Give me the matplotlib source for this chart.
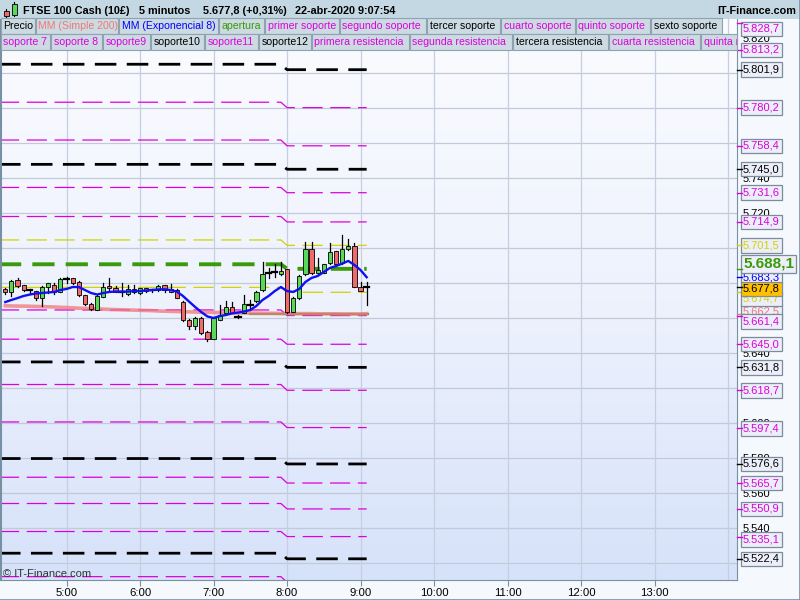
import numpy as np
import matplotlib
matplotlib.use("Agg")
import matplotlib.pyplot as plt
from matplotlib.patches import Rectangle
from matplotlib.colors import LinearSegmentedColormap
import matplotlib.transforms as mtransforms

plt.rcParams['font.family'] = ['Liberation Sans', 'DejaVu Sans']
plt.rcParams['lines.scale_dashes'] = False

# ---------------- data ----------------
first_bar = "04:10"
bar_minutes = 5
opens = [5676.4, 5674.7, 5681.7, 5678.7, 5676.2, 5675.2, 5671.2, 5677.6, 5678.9, 5675.0,
         5682.1, 5682.7, 5680.4, 5673.0, 5668.0, 5664.6, 5672.2, 5678.3, 5677.0, 5675.0,
         5673.5, 5676.4, 5674.1, 5676.9, 5676.0, 5676.0, 5678.7, 5676.4, 5676.0, 5669.4,
         5658.9, 5655.4, 5659.8, 5652.0, 5648.2, 5659.1, 5663.0, 5666.1, 5660.7, 5663.0,
         5667.4, 5669.7, 5676.0, 5685.5, 5686.5, 5685.0, 5687.8, 5663.6, 5671.2, 5685.0,
         5699.4, 5685.5, 5685.9, 5691.2, 5698.1, 5691.2, 5699.4, 5701.3, 5677.9, 5677.8]
highs = [5677.1, 5681.7, 5683.0, 5678.9, 5676.7, 5675.6, 5678.5, 5680.2, 5679.9, 5682.8,
         5683.6, 5683.0, 5681.1, 5673.3, 5668.3, 5672.9, 5679.9, 5682.7, 5678.2, 5679.9,
         5678.9, 5678.9, 5677.2, 5677.2, 5676.6, 5678.8, 5679.0, 5679.4, 5676.3, 5669.7,
         5659.2, 5660.5, 5660.3, 5652.3, 5660.1, 5667.4, 5669.7, 5669.3, 5662.0, 5673.1,
         5670.3, 5675.3, 5692.2, 5688.7, 5690.7, 5692.2, 5688.1, 5671.9, 5684.5, 5703.3,
         5703.3, 5694.3, 5691.0, 5703.1, 5698.4, 5707.4, 5705.2, 5702.9, 5680.7, 5680.4]
lows = [5673.7, 5672.7, 5677.9, 5675.4, 5674.1, 5670.3, 5667.0, 5674.1, 5673.5, 5674.6,
        5680.2, 5679.4, 5672.8, 5667.7, 5664.7, 5664.3, 5671.9, 5676.0, 5674.7, 5672.7,
        5673.2, 5674.1, 5673.8, 5675.1, 5675.1, 5675.7, 5675.1, 5674.7, 5671.3, 5658.5,
        5653.8, 5653.7, 5650.7, 5646.9, 5647.9, 5658.8, 5662.7, 5662.7, 5659.8, 5662.7,
        5664.6, 5669.4, 5675.7, 5683.0, 5683.6, 5684.7, 5662.7, 5663.3, 5670.9, 5684.7,
        5685.2, 5685.2, 5685.6, 5690.9, 5690.4, 5690.9, 5699.1, 5677.6, 5675.3, 5667.4]
closes = [5674.7, 5681.1, 5678.5, 5676.0, 5676.2, 5671.2, 5677.9, 5679.9, 5674.9, 5682.5,
          5682.1, 5680.2, 5673.1, 5668.0, 5665.0, 5672.6, 5677.9, 5677.0, 5675.0, 5675.0,
          5676.4, 5675.0, 5676.9, 5675.4, 5676.0, 5678.5, 5676.0, 5675.0, 5671.6, 5658.9,
          5655.6, 5660.2, 5651.3, 5648.2, 5659.8, 5661.5, 5666.1, 5663.0, 5660.7, 5668.0,
          5667.4, 5675.0, 5685.0, 5685.5, 5686.5, 5686.7, 5663.3, 5671.6, 5684.2, 5699.4,
          5685.5, 5687.4, 5690.7, 5697.5, 5690.7, 5699.4, 5701.3, 5677.9, 5675.6, 5677.8]
ema8 = [5669.1, 5670.3, 5671.4, 5672.6, 5673.4, 5674.0, 5674.3, 5674.6, 5674.9, 5676.0,
        5676.6, 5677.7, 5677.7, 5676.0, 5674.3, 5673.4, 5674.3, 5674.9, 5675.1, 5675.1,
        5675.1, 5675.4, 5675.4, 5675.7, 5676.0, 5676.3, 5676.4, 5676.0, 5675.1, 5672.6,
        5669.4, 5666.3, 5663.4, 5660.9, 5660.0, 5661.1, 5661.7, 5662.6, 5663.1, 5663.7,
        5664.6, 5666.9, 5670.3, 5672.6, 5675.4, 5677.7, 5675.4, 5674.9, 5676.6, 5680.6,
        5682.9, 5684.0, 5686.3, 5688.6, 5689.7, 5691.1, 5692.6, 5690.3, 5687.4, 5683.3]
sma200 = [5667.0, 5666.9, 5666.8, 5666.8, 5666.7, 5666.6, 5666.5, 5666.4, 5666.3, 5666.1,
          5666.0, 5665.8, 5665.6, 5665.5, 5665.3, 5665.2, 5665.1, 5664.9, 5664.8, 5664.7,
          5664.6, 5664.5, 5664.4, 5664.3, 5664.2, 5664.0, 5663.9, 5663.8, 5663.7, 5663.6,
          5663.5, 5663.4, 5663.3, 5663.3, 5663.2, 5663.1, 5663.0, 5663.0, 5662.9, 5662.9,
          5662.8, 5662.8, 5662.7, 5662.7, 5662.7, 5662.6, 5662.6, 5662.5, 5662.5, 5662.5,
          5662.5, 5662.4, 5662.4, 5662.4, 5662.4, 5662.3, 5662.3, 5662.3, 5662.3, 5662.5]

level_names = ["resistencia 8", "resistencia 7", "sexta resistencia", "quinta resistencia",
               "cuarta resistencia", "tercera resistencia", "segunda resistencia",
               "primera resistencia", "nivel superior", "apertura", "nivel inferior",
               "primer soporte", "segundo soporte", "tercer soporte", "cuarto soporte",
               "quinto soporte", "sexto soporte", "soporte 7", "soporte 8", "soporte9",
               "soporte10", "soporte11", "soporte12"]
prev_levels = [5831.8, 5816.3, 5805.0, 5783.3, 5761.7, 5747.8, 5734.6, 5718.0, 5704.6, 5690.7,
               5677.5, 5664.6, 5647.9, 5634.9, 5622.0, 5600.6, 5579.7, 5569.0, 5554.0, 5538.0,
               5525.6, 5512.2, 5498.0]
curr_levels = [5828.7, 5813.2, 5801.9, 5780.2, 5758.4, 5745.0, 5731.6, 5714.9, 5701.5, 5688.1,
               5674.7, 5661.4, 5645.0, 5631.8, 5618.7, 5597.4, 5576.6, 5565.7, 5550.9, 5535.1,
               5522.4, 5509.0, 5495.0]
level_kinds = ["m", "m", "k", "m", "m", "k", "m", "m", "y", "g", "y",
               "m", "m", "k", "m", "m", "k", "m", "m", "m", "k", "m", "k"]
prev_day_end = "07:55"
curr_day_start = "08:00"
curr_day_end = "09:05"
close_ref_level = 5662.4
close_ref_start = "07:30"

last_price = 5677.8
x_tick_labels = ["5:00", "6:00", "7:00", "8:00", "9:00", "10:00", "11:00", "12:00", "13:00"]

legend_row1 = ["Precio", "MM (Simple 200)", "MM (Exponencial 8)", "apertura", "primer soporte",
               "segundo soporte", "tercer soporte", "cuarto soporte", "quinto soporte", "sexto soporte"]
legend_row2 = ["soporte 7", "soporte 8", "soporte9", "soporte10", "soporte11", "soporte12",
               "primera resistencia", "segunda resistencia", "tercera resistencia",
               "cuarta resistencia", "quinta resistencia"]

# ---------------- helpers ----------------
def to_min(s):
    h, m = s.split(":")
    return int(h) * 60 + int(m)

def fmt(v, dec=1):
    s = f"{v:,.{dec}f}"
    return s.replace(",", "X").replace(".", ",").replace("X", ".")

MAG = "#dd00dd"
BLK = "#000000"
YEL = "#d2d200"
GRN = "#3a9a0a"
BLUE = "#1010f0"
SAL = "#f07878"
kind_color = {"m": MAG, "k": BLK, "y": YEL, "g": GRN}

t0 = to_min(first_bar)
times = np.array([t0 + bar_minutes * i for i in range(len(opens))])

W, H = 800, 600
fig = plt.figure(figsize=(8, 6), dpi=100, facecolor="#f5f8fc")
ax = fig.add_axes([1 / W, 20 / H, 736 / W, 562 / H])
xlim = (246.5, 847.3)
ylim = (5510.29, 5831.43)
ax.set_xlim(*xlim)
ax.set_ylim(*ylim)

# background gradient
cmap = LinearSegmentedColormap.from_list("bg", ["#d6e2fa", "#eef2fd", "#fbfcff"])
grad = np.linspace(0, 1, 256).reshape(-1, 1)
ax.imshow(grad, extent=[xlim[0], xlim[1], ylim[0], ylim[1]], aspect="auto",
          cmap=cmap, origin="lower", zorder=0)

# grid
grid_vals = np.arange(5520, 5830, 20)
for gv in grid_vals:
    ax.axhline(gv, color="#c2c9d8", lw=0.9, zorder=1)
hour_ticks = [to_min(s) for s in x_tick_labels]
for hv in hour_ticks + [hour_ticks[-1] + 60]:
    ax.axvline(hv, color="#c6cfe0", lw=0.9, zorder=1)

# level lines
pe, cs, ce = to_min(prev_day_end), to_min(curr_day_start), to_min(curr_day_end)
for pv, cv, k in zip(prev_levels, curr_levels, level_kinds):
    xs = [xlim[0] - 10, pe, cs, ce]
    ys = [pv, pv, cv, cv]
    if k == "k":
        ax.plot(xs, ys, color=BLK, lw=2.0, dashes=(15.5, 7.5), zorder=2, solid_capstyle="butt")
    elif k == "g":
        ax.plot(xs, ys, color=GRN, lw=2.8, dashes=(16, 8), zorder=2)
    else:
        ax.plot(xs, ys, color=kind_color[k], lw=0.9, dashes=(14.5, 5.5), zorder=2)

ax.plot([to_min(close_ref_start), ce + 1], [close_ref_level, close_ref_level],
        color="#4aa82a", lw=1.6, zorder=2)

# indicators
ax.plot(times, sma200, color=SAL, lw=2.6, alpha=0.75, zorder=3)

# candles
bw = 3.4
for t, o, h, l, c in zip(times, opens, highs, lows, closes):
    ax.plot([t, t], [l, h], color="black", lw=0.9, zorder=4)
    if c > o:
        ax.add_patch(Rectangle((t - bw / 2, o), bw, c - o, facecolor="#5ad85a",
                               edgecolor="black", lw=0.6, zorder=5))
    elif c < o:
        ax.add_patch(Rectangle((t - bw / 2, c), bw, o - c, facecolor="#f06a6a",
                               edgecolor="black", lw=0.6, zorder=5))
    else:
        ax.plot([t - bw / 2 - 0.4, t + bw / 2 + 0.4], [o, o], color="black", lw=1.6, zorder=5)

ax.plot(times, ema8, color=BLUE, lw=1.7, zorder=6)

# axes styling
ax.spines["top"].set_visible(False)
ax.spines["left"].set_color("#7890a4")
ax.spines["left"].set_linewidth(1.5)
ax.spines["right"].set_color("#7890a4")
ax.spines["bottom"].set_color("#7890a4")
ax.set_yticks([])
ax.set_xticks(hour_ticks)
ax.set_xticklabels(x_tick_labels, fontsize=8.2)
ax.tick_params(axis="x", length=4, pad=2, color="#7890a4")

# right axis tick labels and level labels
trans = mtransforms.blended_transform_factory(ax.transAxes, ax.transData)

def right_text(v, s, color, fc=None, fs=8.0, weight="normal", dy=0, z=7, box=True, tick=True, pad=0.2):
    tr = mtransforms.offset_copy(trans, fig=fig, x=6.0, y=-dy, units="dots")
    kw = {}
    if box:
        kw["bbox"] = dict(boxstyle=f"square,pad={pad}", facecolor=fc or "#eceff9",
                          edgecolor="#7c8c9c", lw=0.9)
    ax.text(1.0, v, s, transform=tr, fontsize=fs, color=color, fontweight=weight,
            va="center", ha="left", clip_on=False, zorder=z, **kw)
    if tick:
        ax.plot([1.0, 1.0 + 5 / 736], [v, v], transform=trans, color=color, lw=1,
                clip_on=False, zorder=z)

label_vals = [v for v in curr_levels if v >= ylim[0]] + [last_price]
for gv in grid_vals:
    if min(abs(gv - lv) for lv in label_vals) < 2.5:
        continue  # fully covered by a level label in the reference
    right_text(gv, fmt(gv, 0), "#000000", box=False, tick=False, z=6.5, dy=1)

label_dy = {5828.7: 6, 5688.1: -5, 5677.8: 2, 5674.7: 6, 5661.4: 6, 5535.1: 3, 5597.4: 1}
# partially hidden labels first
right_text(sma200[-1], fmt(sma200[-1]), SAL, dy=-2, z=7)
right_text(ema8[-1], fmt(ema8[-1]), "#0000ff", dy=0, z=7)
for cv, k in zip(curr_levels, level_kinds):
    if cv < ylim[0] or k == "g":
        continue
    col = kind_color[k]
    z = 7 if k == "y" and cv < 5680 else 8
    right_text(cv, fmt(cv), col, dy=label_dy.get(cv, 0), z=z)
right_text(last_price, fmt(last_price), "#000000", fc="#ffc000", dy=label_dy[last_price], z=9)
ap = curr_levels[level_names.index("apertura")]
right_text(ap, fmt(ap), GRN, fs=11.0, weight="bold", dy=label_dy[ap], z=10, pad=0.12)

# ---------------- header & legend ----------------
def fig_rect(x0, y0, x1, y1, fc, ec=None, lw=0.8, z=20):
    r = Rectangle((x0 / W, 1 - y1 / H), (x1 - x0) / W, (y1 - y0) / H, transform=fig.transFigure,
                  facecolor=fc, edgecolor=ec if ec else "none", lw=lw, zorder=z)
    fig.add_artist(r)
    return r

fig_rect(0, 0, 800, 18.5, "#c4d8e3", z=20)
# icon
fig.add_artist(plt.Line2D([6 / W, 6 / W], [1 - 9 / H, 1 - 17 / H], color="black", lw=0.8, zorder=21))
fig_rect(3.5, 10.5, 8.5, 15.5, "#f06a6a", "black", 0.6, z=22)
fig.add_artist(plt.Line2D([14 / W, 14 / W], [1 - 2 / H, 1 - 16 / H], color="black", lw=0.8, zorder=21))
fig_rect(11.5, 4, 16.5, 14.5, "#5ad85a", "black", 0.6, z=22)

hdr = [("FTSE 100 Cash (10£)", 23), ("5 minutos", 139), ("5.677,8 (+0,31%)", 203),
       ("22-abr-2020 9:07:54", 295)]
for s, x in hdr:
    fig.text(x / W, 1 - 10.5 / H, s, fontsize=7.8, fontweight="bold", va="center", ha="left", zorder=23)
fig.text(796 / W, 1 - 10.5 / H, "IT-Finance.com", fontsize=7.8, fontweight="bold",
         va="center", ha="right", zorder=23)

row1_colors = [BLK, SAL, "#0000ff", GRN, MAG, MAG, BLK, MAG, MAG, BLK]
row1_x = [(0.5, 35), (36, 118), (119, 218), (219, 264), (265, 339), (340, 426), (427, 500),
          (501, 575), (576, 650), (651, 722)]
row2_colors = [MAG, MAG, MAG, BLK, MAG, BLK, MAG, MAG, BLK, MAG, MAG]
row2_x = [(0.5, 50), (51, 102), (103, 150), (151, 204), (205, 258), (259, 311), (312, 409),
          (410, 512), (513, 608), (609, 700), (701, 737)]
LEG_BG = "#ccdae2"
LEG_EC = "#8ea2b2"
for labels, cols, xs, (y0, y1) in [(legend_row1, row1_colors, row1_x, (18.5, 34)),
                                   (legend_row2, row2_colors, row2_x, (34, 49.5))]:
    for s, c, (x0, x1) in zip(labels, cols, xs):
        r = fig_rect(x0, y0, x1, y1, LEG_BG, LEG_EC, 0.8, z=24)
        t = fig.text((x0 + 2.5) / W, 1 - (y0 + y1) / 2 / H, s, fontsize=7.6, color=c,
                     va="center", ha="left", zorder=25)
        t.set_clip_path(r)

fig.text(3 / W, 1 - 574 / H, "© IT-Finance.com", fontsize=8.0, color="#333333",
         va="center", ha="left", zorder=25)

# outer frame
fig.add_artist(plt.Line2D([799.5 / W, 799.5 / W], [0, 1], color="#7890a4", lw=1.2, zorder=30))
fig.add_artist(plt.Line2D([0, 1], [0.5 / H, 0.5 / H], color="#7890a4", lw=1.2, zorder=30))

fig.savefig("out.png", dpi=100, facecolor=fig.get_facecolor())
